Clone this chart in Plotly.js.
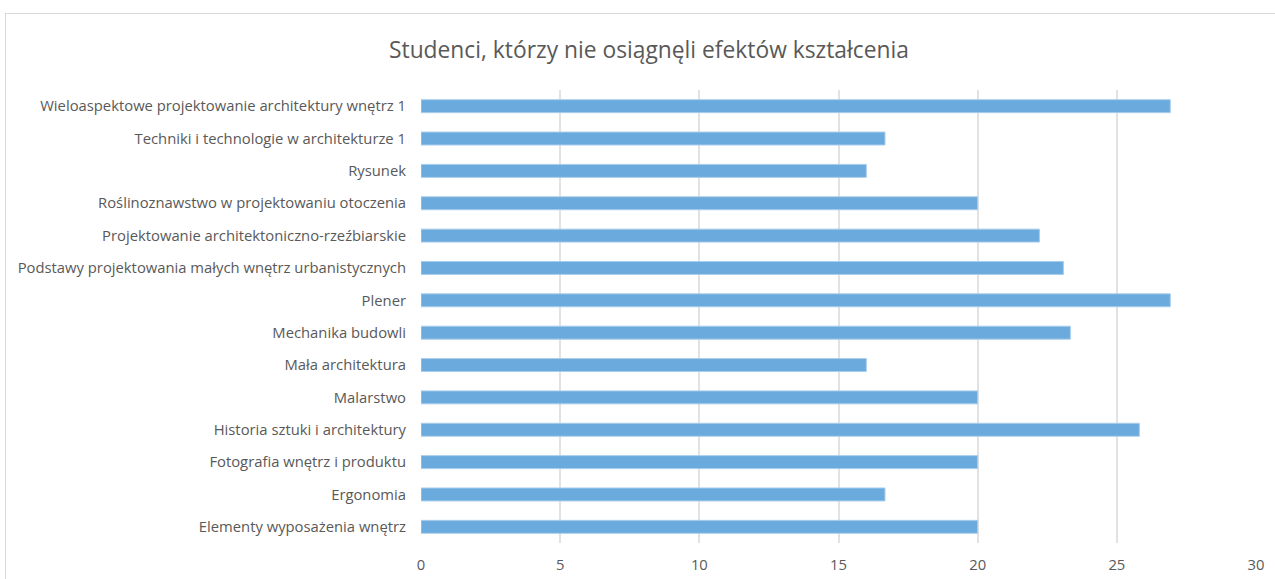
<!DOCTYPE html>
<html>
<head>
<meta charset="utf-8">
<script src="https://cdn.plot.ly/plotly-3.0.1.min.js"></script>
<style>
  html, body { margin: 0; padding: 0; overflow: hidden; background: #fff; }
  #frame { position: absolute; left: 5px; top: 13px; width: 1290px; height: 600px; border: 1px solid #d9d9d9; box-sizing: border-box; }
  #chart { position: absolute; left: 0; top: 0; width: 1275px; height: 579px; }
</style>
</head>
<body>
<div id="frame"></div>
<div id="chart"></div>
<script>
const categories = [
  "Elementy wyposażenia wnętrz",
  "Ergonomia",
  "Fotografia wnętrz i produktu",
  "Historia sztuki i architektury",
  "Malarstwo",
  "Mała architektura",
  "Mechanika budowli",
  "Plener",
  "Podstawy projektowania małych wnętrz urbanistycznych",
  "Projektowanie architektoniczno-rzeźbiarskie",
  "Roślinoznawstwo w projektowaniu otoczenia",
  "Rysunek",
  "Techniki i technologie w architekturze 1",
  "Wieloaspektowe projektowanie architektury wnętrz 1"
];
const values = [20, 16.67, 20, 25.81, 20, 16, 23.33, 26.92, 23.08, 22.22, 20, 16, 16.67, 26.92];
const xTicks = [0, 5, 10, 15, 20, 25, 30];
const chartTitle = "Studenci, którzy nie osiągnęli efektów kształcenia";

const trace = {
  type: 'bar',
  orientation: 'h',
  y: categories,
  x: values,
  marker: { color: '#6aaadc', line: { color: '#a9cdec', width: 1 } },
  hoverinfo: 'x+y'
};

const layout = {
  width: 1275,
  height: 579,
  paper_bgcolor: 'rgba(0,0,0,0)',
  plot_bgcolor: 'rgba(0,0,0,0)',
  margin: { l: 421, r: 19, t: 90, b: 36 },
  showlegend: false,
  bargap: 0.6,
  font: { family: 'Open Sans, sans-serif', color: '#595959', size: 14.8 },
  title: {
    text: chartTitle,
    font: { family: 'Open Sans, sans-serif', size: 22.8, color: '#595959' },
    x: 0.509, xanchor: 'center',
    y: 1 - 50 / 579, yref: 'container', yanchor: 'middle'
  },
  xaxis: {
    range: [0, 30],
    tickvals: xTicks,
    ticktext: xTicks.map(String),
    showgrid: true,
    gridcolor: '#e2e2e2',
    gridwidth: 2,
    zeroline: false,
    showline: false,
    ticks: '',
    ticklabelstandoff: 11,
    tickfont: { size: 14.8, color: '#595959' },
    fixedrange: true
  },
  yaxis: {
    type: 'category',
    categoryorder: 'array',
    categoryarray: categories,
    showgrid: false,
    zeroline: false,
    showline: false,
    ticks: '',
    ticklabelstandoff: 14,
    tickfont: { size: 14.8, color: '#595959' },
    automargin: false,
    fixedrange: true
  }
};

Plotly.newPlot('chart', [trace], layout, { displayModeBar: false, staticPlot: true });
</script>
</body>
</html>
